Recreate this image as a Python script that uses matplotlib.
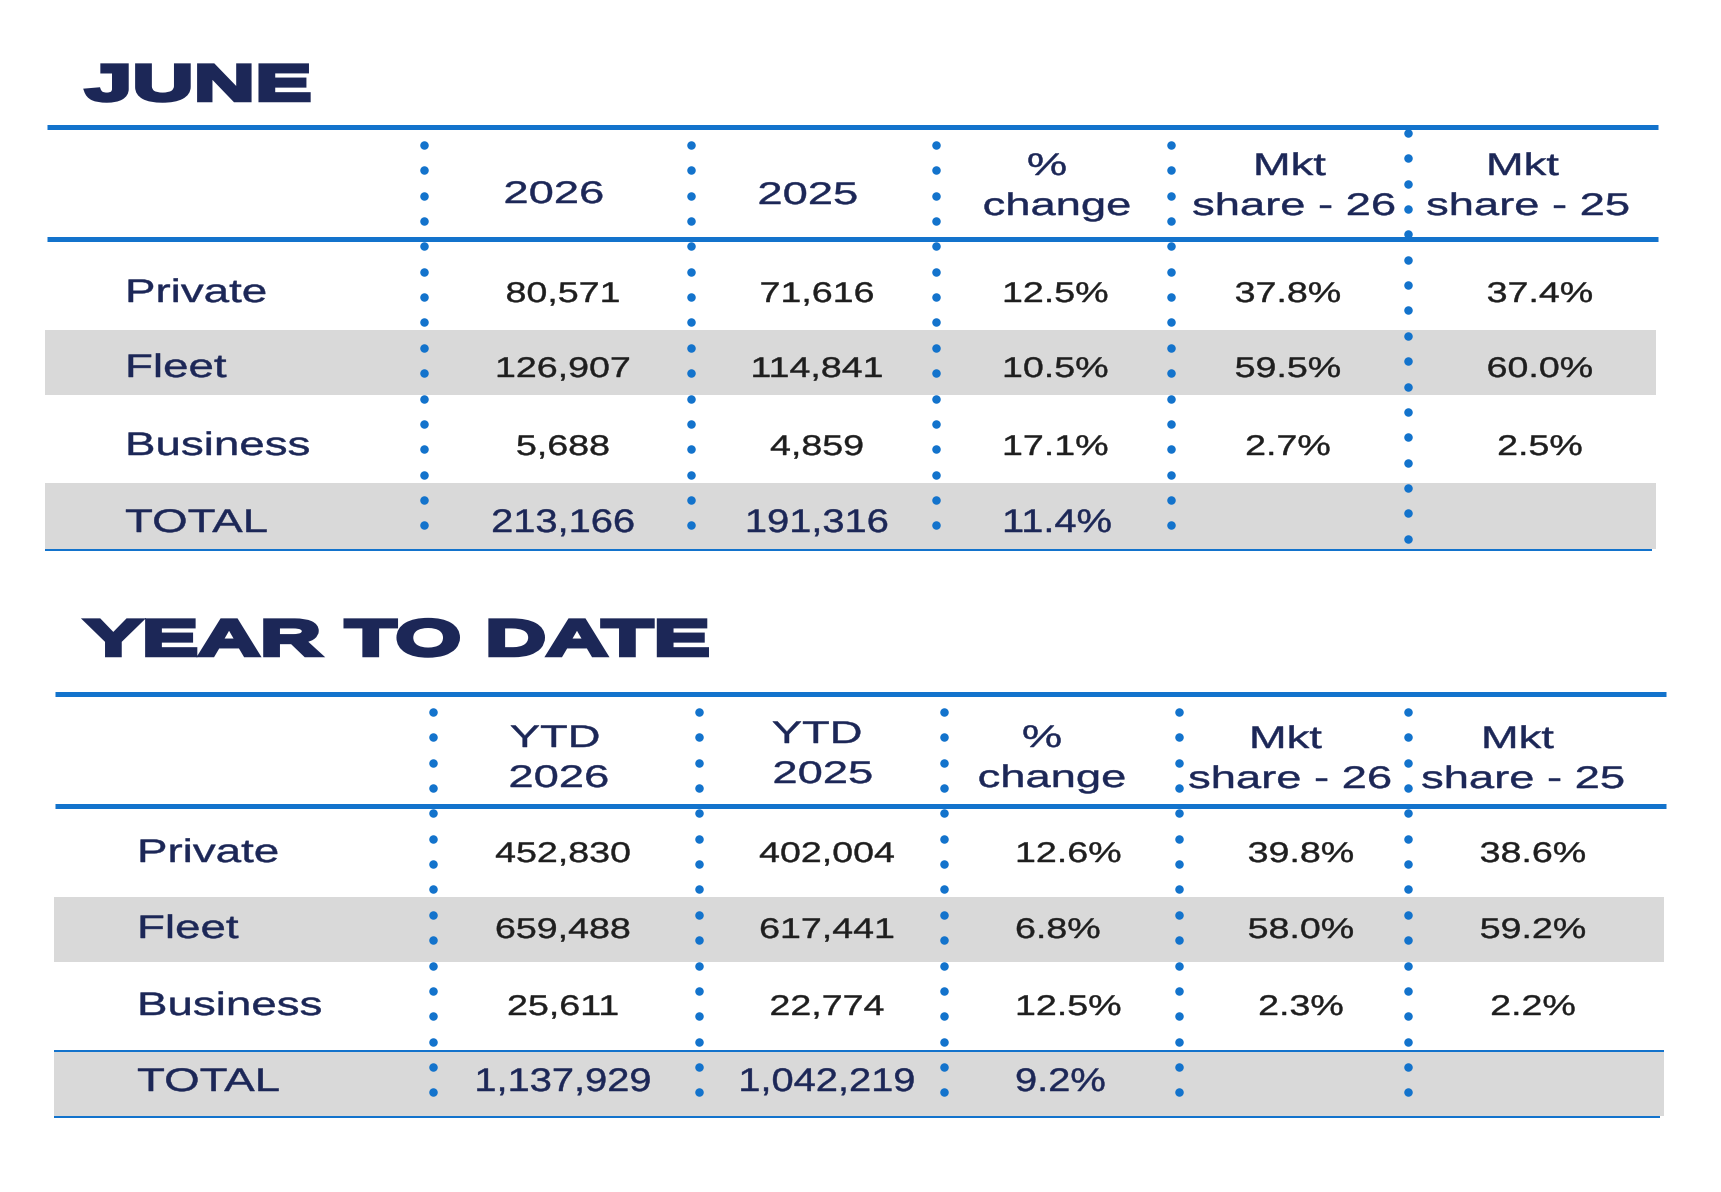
import matplotlib
matplotlib.use("Agg")
import matplotlib.pyplot as plt
from matplotlib import patheffects as pe
from matplotlib.transforms import Affine2D
from matplotlib.patches import Rectangle

# ---------------- data ----------------
categories = ["Private", "Fleet", "Business", "TOTAL"]

june_title = "JUNE"
june_headers = [["2026"], ["2025"], ["%", "change"], ["Mkt", "share - 26"], ["Mkt", "share - 25"]]
june_2026 = [80571, 126907, 5688, 213166]
june_2025 = [71616, 114841, 4859, 191316]
june_change = [12.5, 10.5, 17.1, 11.4]
june_share_26 = [37.8, 59.5, 2.7, None]
june_share_25 = [37.4, 60.0, 2.5, None]

ytd_title = "YEAR TO DATE"
ytd_headers = [["YTD", "2026"], ["YTD", "2025"], ["%", "change"], ["Mkt", "share - 26"], ["Mkt", "share - 25"]]
ytd_2026 = [452830, 659488, 25611, 1137929]
ytd_2025 = [402004, 617441, 22774, 1042219]
ytd_change = [12.6, 6.8, 12.5, 9.2]
ytd_share_26 = [39.8, 58.0, 2.3, None]
ytd_share_25 = [38.6, 59.2, 2.2, None]

# ---------------- style ----------------
BLUE = "#1373CC"
NAVY = "#1C2757"
INK = "#1E1E1E"
BAND = "#D9D9D9"
FONT = "Liberation Sans"
PX = 72.0 / 100.0  # points per pixel at dpi 100


class Stretch(pe.AbstractPathEffect):
    """Widen glyphs horizontally (the source uses an extended typeface)."""

    def __init__(self, sx, anchor="center", stroke_px=0.0, join="round"):
        super().__init__()
        self.sx = sx
        self.anchor = anchor
        self.stroke = stroke_px * PX
        self.join = join

    def draw_path(self, renderer, gc, tpath, affine, rgbFace=None):
        if self.anchor == "center":
            ext = tpath.get_extents()
            c = 0.5 * (ext.x0 + ext.x1)
        else:
            c = 0.0
        pre = Affine2D().translate(-c, 0).scale(self.sx, 1.0).translate(c, 0)
        gc0 = renderer.new_gc()
        gc0.copy_properties(gc)
        if self.stroke > 0:
            gc0.set_linewidth(self.stroke)
            gc0.set_foreground(rgbFace)
            gc0.set_joinstyle(self.join)
        renderer.draw_path(gc0, tpath, pre + affine, rgbFace)
        gc0.restore()


def put(ax, x, y, s, size, color, sx, ha="center", weight="normal", stroke=0.0, join="round"):
    ax.text(x, y, s, fontsize=size, color=color, family=FONT, weight=weight,
            ha=ha, va="baseline",
            path_effects=[Stretch(sx, "center" if ha == "center" else "left", stroke, join)])


def fmt_int(v):
    return f"{v:,}"


def fmt_pct(v):
    return "" if v is None else f"{v:.1f}%"


fig = plt.figure(figsize=(17.21, 11.92), dpi=100)
ax = fig.add_axes([0, 0, 1, 1])
ax.set_xlim(0, 1721)
ax.set_ylim(1192, 0)
ax.axis("off")

june_layout = dict(
    title=(85, 100),
    line_x=(47, 1658), top_y=127, head_y=239,
    band_x=(45, 1656), fleet=(330, 395), total=(483, 549),
    total_top_line=None, bottom_line=(550, 45, 1652),
    seps=[424, 691, 936, 1171, 1408],
    dots=[(145, 16), (145, 16), (145, 16), (145, 16), (133, 17)],
    heads=[[(554, 203)], [(808, 204)], [(1047, 175), (1057, 215)],
           [(1290, 175), (1294, 215)], [(1523, 175), (1528, 215)]],
    label_x=125, rows=[302, 377, 455, 532],
    vals=[(563, "center"), (817, "center"), (1002, "left"), (1288, "center"), (1540, "center")],
)

ytd_layout = dict(
    title=(85, 655),
    line_x=(55, 1666), top_y=693.5, head_y=805.5,
    band_x=(54, 1664), fleet=(897, 962), total=(1051, 1116),
    total_top_line=(1051, 54, 1664), bottom_line=(1117, 54, 1660),
    seps=[433, 699, 944, 1179, 1408],
    dots=[(712, 16)] * 5,
    heads=[[(555, 747), (559, 787)], [(817, 743), (823, 783)], [(1042, 747), (1052, 787)],
           [(1286, 748), (1290, 788)], [(1518, 748), (1523, 788)]],
    label_x=137, rows=[862, 938, 1015, 1091],
    vals=[(563, "center"), (827, "center"), (1015, "left"), (1301, "center"), (1533, "center")],
)

DOT_STEP = 25.35


def draw_table(title, headers, columns, L):
    # title (heavy, extended display face in the source)
    put(ax, L["title"][0], L["title"][1], title, 36, NAVY, 1.7, ha="left",
        weight="bold", stroke=4.5, join="miter")
    # grey bands
    for y0, y1 in (L["fleet"], L["total"]):
        ax.add_patch(Rectangle((L["band_x"][0], y0), L["band_x"][1] - L["band_x"][0],
                               y1 - y0, facecolor=BAND, edgecolor="none", zorder=1))
    # rules
    for y in (L["top_y"], L["head_y"]):
        ax.plot(L["line_x"], [y, y], color=BLUE, lw=5 * PX, solid_capstyle="butt", zorder=2)
    if L["total_top_line"]:
        y, a, b = L["total_top_line"]
        ax.plot([a, b], [y, y], color=BLUE, lw=2 * PX, solid_capstyle="butt", zorder=2)
    y, a, b = L["bottom_line"]
    ax.plot([a, b], [y, y], color=BLUE, lw=2 * PX, solid_capstyle="butt", zorder=2)
    # dotted separators
    for x, (y0, n) in zip(L["seps"], L["dots"]):
        ys = [y0 + i * DOT_STEP for i in range(n)]
        ax.scatter([x] * n, ys, s=(8.5 * PX) ** 2, color=BLUE, linewidths=0, zorder=4)
    # headers
    for lines, pos in zip(headers, L["heads"]):
        for s, (x, y) in zip(lines, pos):
            put(ax, x, y, s, 22.5, NAVY, 1.45, stroke=0.5)
    # rows
    for r, cat in enumerate(categories):
        is_total = cat == "TOTAL"
        yb = L["rows"][r]
        put(ax, L["label_x"], yb, cat, 23.5, NAVY, 1.4, ha="left", stroke=0.5)
        for (x, ha), col in zip(L["vals"], columns):
            s = col[r]
            if not s:
                continue
            if is_total:
                put(ax, x, yb, s, 23.5, NAVY, 1.22, ha=ha, stroke=0.5)
            else:
                put(ax, x, yb, s, 20.5, INK, 1.32, ha=ha, stroke=0.45)


june_cols = [[fmt_int(v) for v in june_2026], [fmt_int(v) for v in june_2025],
             [fmt_pct(v) for v in june_change], [fmt_pct(v) for v in june_share_26],
             [fmt_pct(v) for v in june_share_25]]
ytd_cols = [[fmt_int(v) for v in ytd_2026], [fmt_int(v) for v in ytd_2025],
            [fmt_pct(v) for v in ytd_change], [fmt_pct(v) for v in ytd_share_26],
            [fmt_pct(v) for v in ytd_share_25]]

draw_table(june_title, june_headers, june_cols, june_layout)
draw_table(ytd_title, ytd_headers, ytd_cols, ytd_layout)

fig.savefig("out.png", dpi=100, facecolor="white")
